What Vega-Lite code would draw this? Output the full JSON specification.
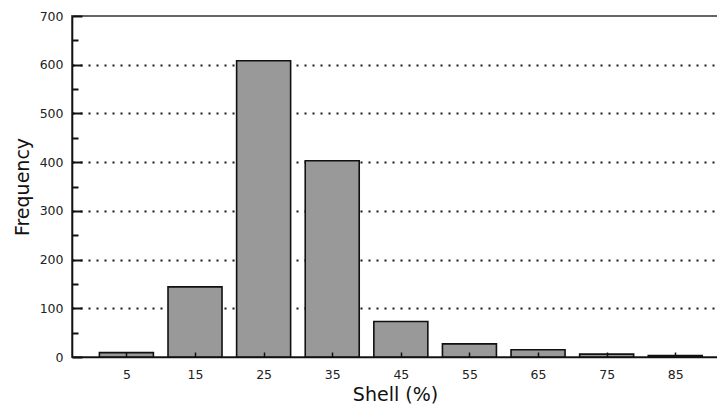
{
  "$schema": "https://vega.github.io/schema/vega-lite/v6.json",
  "width": 646,
  "height": 341,
  "padding": {"left": 72, "top": 16, "right": 0, "bottom": 49},
  "autosize": {"type": "none"},
  "background": "white",
  "config": {
    "view": {"stroke": "#666", "strokeWidth": 2},
    "font": "DejaVu Sans"
  },
  "data": {
    "values": [
      {"shell": 5, "freq": 9},
      {"shell": 15, "freq": 144},
      {"shell": 25, "freq": 608},
      {"shell": 35, "freq": 403},
      {"shell": 45, "freq": 73},
      {"shell": 55, "freq": 27},
      {"shell": 65, "freq": 15},
      {"shell": 75, "freq": 6},
      {"shell": 85, "freq": 3}
    ]
  },
  "mark": {"type": "bar", "width": 54, "fill": "#999999", "stroke": "#111", "strokeWidth": 1.6},
  "encoding": {
    "x": {
      "field": "shell",
      "type": "quantitative",
      "scale": {"domain": [-2.2, 90.5], "nice": false, "zero": false},
      "axis": {
        "values": [5, 15, 25, 35, 45, 55, 65, 75, 85],
        "title": "Shell (%)",
        "grid": false,
        "zindex": 1,
        "tickSize": -5,
        "tickColor": "#111",
        "tickWidth": 1.5,
        "domainColor": "#111",
        "domainWidth": 1.6,
        "labelFontSize": 12.5,
        "labelColor": "#222",
        "labelPadding": 16,
        "titleFontSize": 19,
        "titleFontWeight": "normal",
        "titleColor": "#111",
        "titlePadding": 5
      }
    },
    "y": {
      "field": "freq",
      "type": "quantitative",
      "scale": {"domain": [0, 700], "nice": false},
      "axis": {
        "values": [0, 50, 100, 150, 200, 250, 300, 350, 400, 450, 500, 550, 600, 650, 700],
        "labelExpr": "datum.value % 100 === 0 ? datum.label : ''",
        "title": "Frequency",
        "grid": true,
        "gridDash": [2, 6],
        "gridColor": "#1a1a1a",
        "gridWidth": 2,
        "gridOpacity": {"condition": {"test": "datum.value % 100 === 0 && datum.value > 0 && datum.value < 700", "value": 1}, "value": 0},
        "tickSize": {"condition": {"test": "datum.value % 100 === 0", "value": -10}, "value": -6},
        "tickColor": "#111",
        "tickWidth": 2,
        "domainColor": "#111",
        "domainWidth": 1.6,
        "labelFontSize": 12.5,
        "labelColor": "#222",
        "labelPadding": 19,
        "titleFontSize": 19,
        "titleFontWeight": "normal",
        "titleColor": "#111",
        "titlePadding": 7
      }
    }
  }
}
